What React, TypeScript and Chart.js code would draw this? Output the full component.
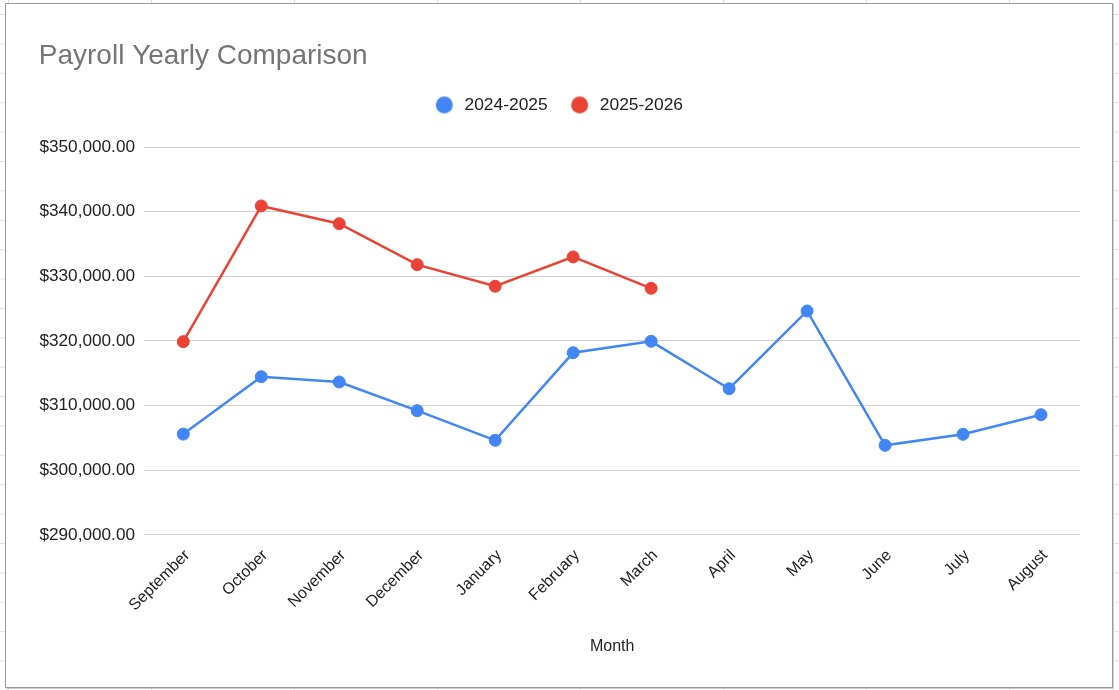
import React, { useEffect, useRef } from 'react';
import { Chart, registerables } from 'chart.js';

Chart.register(...registerables);

const months = [
  'September', 'October', 'November', 'December', 'January', 'February',
  'March', 'April', 'May', 'June', 'July', 'August',
];
const payroll2024 = [305600, 314480, 313660, 309220, 304640, 318190, 319950, 312620, 324640, 303870, 305570, 308600];
const payroll2025 = [319900, 340880, 338140, 331800, 328460, 333000, 328150, null, null, null, null, null];
const seriesLabels = ['2024-2025', '2025-2026'];
const seriesColors = ['#4285F4', '#EA4335'];
const yMin = 290000;
const yMax = 350000;
const yStep = 10000;

const FONT = '"Liberation Sans", Arial, Helvetica, sans-serif';

function circleImage(color: string) {
  const c = document.createElement('canvas');
  c.width = 19;
  c.height = 19;
  const ctx = c.getContext('2d')!;
  ctx.fillStyle = color;
  ctx.beginPath();
  ctx.arc(9.5, 9.5, 8.5, 0, Math.PI * 2);
  ctx.fill();
  return c;
}

const legendSpacer = {
  id: 'legendSpacer',
  beforeInit(chart: any) {
    const legend = chart.legend;
    if (!legend) return;
    const orig = legend.fit;
    legend.fit = function () {
      orig.call(this);
      this.height += 23.3;
      if (this.lineWidths && this.lineWidths.length) this.lineWidths[0] += 3;
    };
  },
};

const fmt = (v: number) =>
  '$' + Number(v).toLocaleString('en-US', { minimumFractionDigits: 2, maximumFractionDigits: 2 });

export default function App() {
  const ref = useRef<HTMLCanvasElement | null>(null);

  useEffect(() => {
    if (!ref.current) return;
    Chart.defaults.font.family = FONT;
    const images = seriesColors.map(circleImage);
    const chart = new Chart(ref.current, {
      type: 'line',
      data: {
        labels: months,
        datasets: [
          {
            label: seriesLabels[0],
            data: payroll2024,
            borderColor: seriesColors[0],
            backgroundColor: seriesColors[0],
            pointBackgroundColor: seriesColors[0],
            pointBorderColor: seriesColors[0],
            borderWidth: 2.5,
            pointRadius: 6,
            pointBorderWidth: 1,
            tension: 0,
          },
          {
            label: seriesLabels[1],
            data: payroll2025,
            borderColor: seriesColors[1],
            backgroundColor: seriesColors[1],
            pointBackgroundColor: seriesColors[1],
            pointBorderColor: seriesColors[1],
            borderWidth: 2.5,
            pointRadius: 6,
            pointBorderWidth: 1,
            tension: 0,
          },
        ],
      },
      options: {
        animation: false,
        responsive: true,
        maintainAspectRatio: false,
        events: [],
        layout: { padding: { left: 32.8, right: 32, top: 0, bottom: 0 } },
        plugins: {
          tooltip: { enabled: false },
          title: {
            display: true,
            text: 'Payroll Yearly Comparison',
            align: 'start',
            color: '#757575',
            font: { family: FONT, size: 28, weight: 'normal' },
            padding: { top: 35, bottom: 3.2 },
          },
          legend: {
            position: 'top',
            align: 'center',
            labels: {
              usePointStyle: true,
              pointStyleWidth: 23,
              boxHeight: 17.4,
              padding: 20.5,
              color: '#222222',
              font: { family: FONT, size: 17.4 },
              generateLabels: (c: any) => {
                const items = Chart.defaults.plugins.legend.labels.generateLabels(c);
                return items.map((it: any, i: number) => ({ ...it, pointStyle: images[i % images.length] }));
              },
            },
          },
        },
        scales: {
          x: {
            type: 'category',
            offset: true,
            grid: { display: false, drawTicks: false },
            border: { display: false },
            ticks: {
              color: '#222222',
              font: { family: FONT, size: 16 },
              maxRotation: 45,
              minRotation: 45,
              padding: 11,
              labelOffset: 4,
              autoSkip: false,
            },
            title: {
              display: true,
              text: 'Month',
              color: '#222222',
              font: { family: FONT, size: 16 },
              padding: { top: 11.5, bottom: 30.4 },
            },
          },
          y: {
            min: yMin,
            max: yMax,
            grid: { color: '#d0d0d0', lineWidth: 1, drawTicks: false },
            border: { display: false },
            ticks: {
              stepSize: yStep,
              color: '#222222',
              font: { family: FONT, size: 17.2 },
              padding: 9.3,
              callback: (v: any) => fmt(v),
            },
            afterFit: (scale: any) => {
              scale.width = 105.5;
            },
          },
        },
      },
      plugins: [legendSpacer],
    } as any);
    return () => chart.destroy();
  }, []);

  return (
    <div
      style={{
        position: 'fixed',
        left: 0,
        top: 0,
        width: 1119,
        height: 690,
        background: '#ffffff',
        backgroundImage:
          'linear-gradient(to right, #e0e0e0 1px, transparent 1px), linear-gradient(to bottom, #e0e0e0 1px, transparent 1px)',
        backgroundSize: '143px 29.4px',
        backgroundPosition: '8px 14px',
        overflow: 'hidden',
      }}
    >
      <div
        style={{
          position: 'absolute',
          left: 5,
          top: 3,
          width: 1108,
          height: 685,
          boxSizing: 'border-box',
          border: '1px solid #9a9a9a',
          boxShadow: '1px 1px 0 #cfcfcf',
          background: '#ffffff',
        }}
      >
        <div style={{ position: 'relative', width: 1106, height: 683 }}>
          <canvas ref={ref} />
        </div>
      </div>
    </div>
  );
}
